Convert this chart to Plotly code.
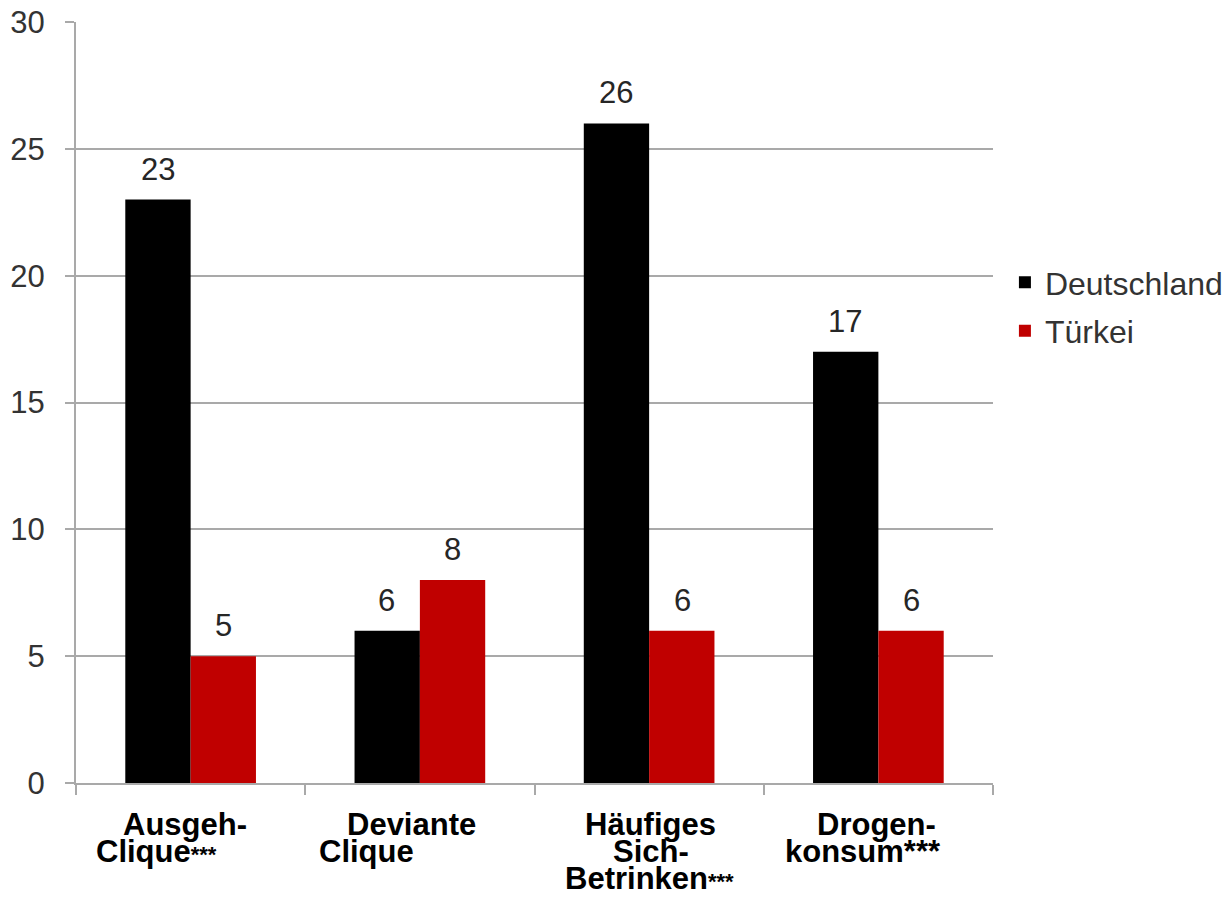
import plotly.graph_objects as go

# Data
categories = ["Ausgeh-Clique", "Deviante Clique", "Häufiges Sich-Betrinken", "Drogenkonsum"]
deutschland = [23, 6, 26, 17]
tuerkei = [5, 8, 6, 6]
series_names = ["Deutschland", "Türkei"]

# Category captions, line by line; the second item marks the significance stars
caption_lines = [
    [("Ausgeh-", ""), ("Clique", "small")],
    [("Deviante", ""), ("Clique", "")],
    [("Häufiges", ""), ("Sich-", ""), ("Betrinken", "small")],
    [("Drogen-", ""), ("konsum", "big")],
]
# horizontal nudges (px) of each caption line relative to the category centre
caption_shift = [
    [-6, -34],
    [-8, -53],
    [1, 2, 0],
    [-2, -15],
]

FONT = "Liberation Sans, Arial, sans-serif"
GRID = "#a9a9a9"
colors = ["#000000", "#c00000"]

fig = go.Figure()
for name, vals, col in zip(series_names, [deutschland, tuerkei], colors):
    fig.add_trace(go.Bar(
        x=categories, y=vals, name=name, marker_color=col,
        marker_line_width=0, legendgroup=name,
    ))

annotations = []
# value labels above bars
bar_offset = 33
for vals, dx in [(deutschland, -bar_offset), (tuerkei, bar_offset)]:
    for cat, v in zip(categories, vals):
        annotations.append(dict(
            x=cat, y=v, xref="x", yref="y", text=str(v), showarrow=False,
            xshift=dx, yanchor="bottom", yshift=11,
            font=dict(family=FONT, size=31, color="#262626"),
        ))

# category captions below the axis
line_step = 27
for cat, lines, shifts in zip(categories, caption_lines, caption_shift):
    for i, ((txt, stars), sx) in enumerate(zip(lines, shifts)):
        if stars == "small":
            txt = txt + "<span style='font-size:22px'>***</span>"
        elif stars == "big":
            txt = txt + "***"
        annotations.append(dict(
            x=cat, y=0, xref="x", yref="paper", text=f"<b>{txt}</b>",
            showarrow=False, xanchor="center", yanchor="middle",
            xshift=sx, yshift=-(41 + i * line_step),
            font=dict(family=FONT, size=31, color="#000000"),
        ))

fig.update_layout(
    width=1227, height=900,
    margin=dict(l=76, r=234, t=22, b=117, autoexpand=False),
    plot_bgcolor="white", paper_bgcolor="white",
    barmode="group", bargap=0.43, bargroupgap=0,
    font=dict(family=FONT, size=31, color="#333333"),
    showlegend=True,
    legend=dict(
        x=1.013, y=0.694, xanchor="left", yanchor="top",
        font=dict(family=FONT, size=32, color="#333333"),
        tracegroupgap=4, bgcolor="rgba(0,0,0,0)",
    ),
    annotations=annotations,
)
fig.update_xaxes(
    showticklabels=False, ticks="outside", tickson="boundaries",
    ticklen=10, tickwidth=2, tickcolor=GRID, automargin=False,
    showline=True, linecolor=GRID, linewidth=2, showgrid=False,
)
fig.update_yaxes(
    range=[0, 30], dtick=5, ticks="outside", ticklen=9, tickwidth=2,
    tickcolor=GRID, showline=True, linecolor=GRID, linewidth=2,
    showgrid=True, gridcolor=GRID, gridwidth=1.5, zeroline=False,
    ticklabelstandoff=14, automargin=False,
    tickfont=dict(family=FONT, size=31, color="#333333"),
)

fig.write_html("out.html")
